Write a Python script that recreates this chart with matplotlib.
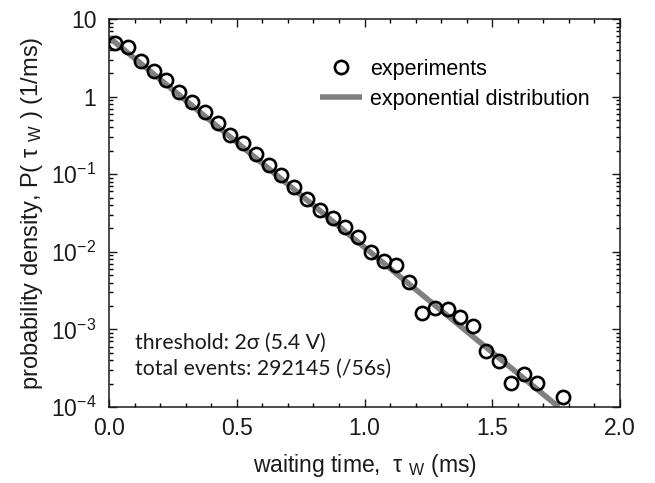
import numpy as np
import matplotlib
matplotlib.use("Agg")
import matplotlib.pyplot as plt
from matplotlib.ticker import MultipleLocator, LogLocator, NullFormatter

plt.rcParams['font.family'] = ['Liberation Sans', 'DejaVu Sans']
plt.rcParams['mathtext.fontset'] = 'custom'
plt.rcParams['mathtext.rm'] = 'Liberation Sans'
plt.rcParams['mathtext.it'] = 'Liberation Sans'

# measured waiting-time histogram (bin centres, ms) and density (1/ms)
t_exp = [0.025, 0.075, 0.125, 0.175, 0.225, 0.275, 0.325, 0.375, 0.425, 0.475,
         0.525, 0.575, 0.625, 0.675, 0.725, 0.775, 0.825, 0.875, 0.925, 0.975,
         1.025, 1.075, 1.125, 1.175, 1.225, 1.275, 1.325, 1.375, 1.425, 1.475,
         1.525, 1.575, 1.625, 1.675, 1.775]
p_exp = [4.95, 4.3, 2.88, 2.14, 1.64, 1.16, 0.86, 0.638, 0.453, 0.320,
         0.250, 0.182, 0.131, 0.0977, 0.069, 0.0476, 0.0346, 0.0273, 0.0209, 0.0155,
         0.00994, 0.0076, 0.00676, 0.00408, 0.00163, 0.00189, 0.00183, 0.00145, 0.00111, 0.000527,
         0.000392, 0.000204, 0.000266, 0.000204, 0.000135]

# exponential fit, end points of the straight line on the log axis
line_t = [0.0, 1.76]
line_p = [5.8, 1.0e-4]

x_ticks = [0.0, 0.5, 1.0, 1.5, 2.0]
x_labels = ['0.0', '0.5', '1.0', '1.5', '2.0']
y_ticks = [1e-4, 1e-3, 1e-2, 1e-1, 1, 10]
y_labels = ['10$^{-4}$', '10$^{-3}$', '10$^{-2}$', '10$^{-1}$', '1', '10']

fig = plt.figure(figsize=(6.55, 4.83), dpi=100)
ax = fig.add_axes([109 / 655, 76 / 483, 511 / 655, 388 / 483])

ax.plot(line_t, line_p, color='#808080', lw=4.0, solid_capstyle='butt',
        label='exponential distribution', zorder=2)
ax.plot(t_exp, p_exp, 'o', ms=9.5, mfc='none', mec='black', mew=1.9,
        label='experiments', zorder=3)

ax.set_yscale('log')
ax.set_xlim(0, 2.0)
ax.set_ylim(1e-4, 10)

ax.set_xticks(x_ticks)
ax.set_xticklabels(x_labels)
ax.xaxis.set_minor_locator(MultipleLocator(0.1))
ax.set_yticks(y_ticks)
ax.set_yticklabels(y_labels)
ax.yaxis.set_minor_locator(LogLocator(base=10, subs=np.arange(2, 10), numticks=20))
ax.yaxis.set_minor_formatter(NullFormatter())

ax.tick_params(which='both', direction='in', top=True, right=True, width=1.0)
ax.tick_params(which='major', length=5.5, labelsize=16.5, colors='#1a1a1a')
ax.tick_params(which='minor', length=3)
ax.tick_params(axis='x', which='major', pad=7)
ax.tick_params(axis='y', which='major', pad=9)
for s in ax.spines.values():
    s.set_linewidth(1.1)
    s.set_color('#1a1a1a')

ax.set_xlabel('waiting time,  \u03c4 $_{\\rm W}$ (ms)', fontsize=16.5, labelpad=9,
              color='#1a1a1a')
ax.set_ylabel('probability density, P( \u03c4 $_{\\rm W}$ ) (1/ms)', fontsize=17,
              labelpad=4, color='#1a1a1a')

handles, labels = ax.get_legend_handles_labels()
ax.legend(handles[::-1], labels[::-1], loc='upper left',
          bbox_to_anchor=(0.413, 0.897), frameon=False, fontsize=15.5,
          handlelength=1.95, handletextpad=0.37, labelspacing=0.42,
          borderpad=0, borderaxespad=0)

ax.text(0.05, 0.132, 'threshold: 2\u03c3 (5.4 V)\ntotal events: 292145 (/56s)',
        transform=ax.transAxes, fontsize=15.3, family=['Lato', 'DejaVu Sans'],
        va='center', ha='left', linespacing=1.4, color='#1a1a1a')

fig.savefig('out.png', dpi=100)
